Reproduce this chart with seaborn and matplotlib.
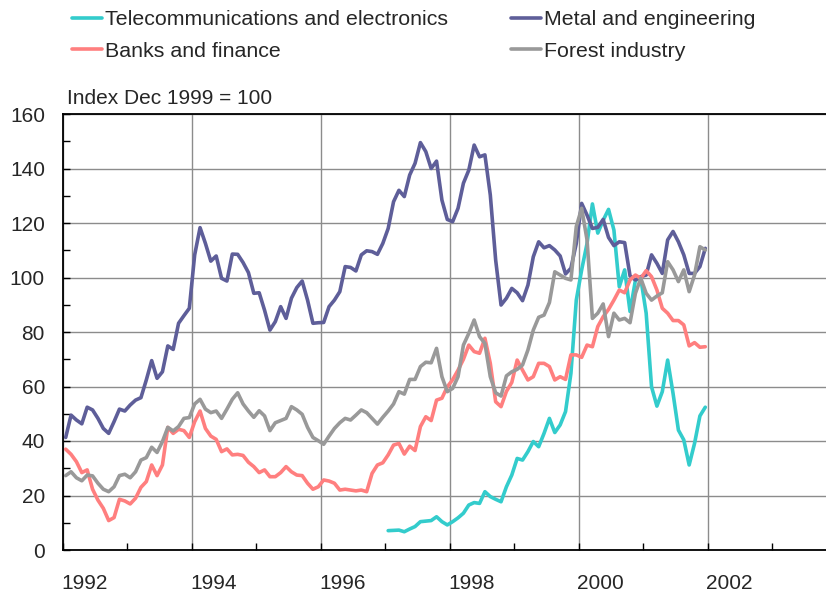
import pandas as pd
import matplotlib.pyplot as plt
import matplotlib.transforms as mtransforms
import seaborn as sns

# monthly index values, Jan 1992 - Dec 2001 (telecom starts Jan 1997)
metal = [41.3, 49.5, 47.7, 46.3, 52.4, 51.4, 48.3, 44.6, 42.8, 47.1, 51.7, 51.0,
         53.2, 55.0, 55.9, 62.4, 69.5, 63.0, 65.4, 74.9, 73.6, 83.2, 86.0, 88.7,
         108.3, 118.3, 112.5, 106.0, 107.9, 99.7, 98.7, 108.6, 108.5, 105.5, 101.8, 94.2,
         94.4, 88.0, 80.7, 83.8, 89.3, 85.0, 92.4, 96.3, 98.7, 91.7, 83.2, 83.4,
         83.5, 89.3, 91.7, 94.8, 104.0, 103.7, 102.4, 108.3, 109.8, 109.5, 108.5, 112.5,
         118.0, 127.8, 132.0, 129.7, 137.6, 141.9, 149.5, 146.2, 140.0, 142.7, 128.4, 121.3,
         120.5, 125.4, 134.6, 139.4, 148.6, 144.3, 145.0, 130.3, 106.4, 89.9, 92.4, 96.0,
         94.4, 91.5, 97.2, 107.6, 113.1, 110.9, 111.7, 110.1, 107.9, 101.3, 103.4, 112.5,
         127.2, 122.9, 118.0, 118.4, 121.3, 114.7, 111.7, 113.1, 112.8, 100.6, 99.1, 100.3,
         100.9, 108.3, 105.2, 101.5, 113.8, 116.9, 113.1, 108.3, 101.5, 101.5, 104.0, 110.7]

banks = [37.0, 35.1, 32.4, 28.4, 29.4, 22.3, 18.3, 15.3, 10.8, 11.9, 18.6, 18.0,
         16.9, 19.0, 23.0, 25.1, 31.2, 27.3, 31.2, 45.0, 42.8, 44.3, 43.8, 41.3,
         47.1, 51.0, 44.6, 41.8, 40.6, 36.1, 37.1, 34.9, 35.1, 34.7, 32.2, 30.6,
         28.4, 29.4, 26.9, 26.9, 28.4, 30.6, 28.7, 27.5, 27.3, 24.5, 22.3, 23.2,
         25.7, 25.3, 24.5, 22.0, 22.3, 22.0, 21.7, 22.0, 21.4, 28.1, 31.2, 32.0,
         34.9, 38.5, 39.1, 35.2, 38.1, 36.5, 45.3, 48.9, 47.5, 55.0, 55.7, 59.9,
         62.5, 66.0, 70.0, 75.2, 72.8, 72.2, 77.7, 68.5, 54.4, 52.6, 58.2, 61.5,
         69.7, 66.0, 62.4, 63.6, 68.5, 68.5, 67.3, 62.4, 63.6, 62.6, 71.6, 71.6,
         70.7, 75.2, 74.6, 82.0, 85.6, 88.3, 91.7, 95.4, 94.4, 99.1, 100.9, 99.7,
         102.5, 100.3, 95.4, 88.7, 86.9, 84.2, 84.2, 82.6, 74.9, 76.1, 74.4, 74.6]

forest = [27.3, 28.7, 26.5, 25.4, 27.5, 27.2, 24.5, 22.3, 21.4, 23.2, 27.3, 27.8,
          26.5, 28.7, 33.0, 33.9, 37.7, 35.8, 39.8, 45.0, 43.7, 45.3, 48.3, 48.6,
          53.6, 55.3, 51.7, 50.4, 51.0, 48.3, 51.7, 55.3, 57.7, 53.6, 51.0, 48.7,
          51.1, 49.2, 43.8, 46.7, 47.5, 48.3, 52.6, 51.4, 49.8, 45.0, 41.3, 40.1,
          38.8, 41.8, 44.6, 46.7, 48.3, 47.7, 49.5, 51.4, 50.4, 48.3, 46.2, 48.7,
          51.0, 53.6, 58.1, 57.2, 62.6, 62.6, 67.3, 68.9, 68.7, 74.0, 63.6, 58.1,
          59.3, 63.6, 75.2, 79.5, 84.4, 78.3, 75.8, 63.6, 57.7, 56.5, 63.9, 65.4,
          66.3, 67.9, 73.4, 80.7, 85.4, 86.2, 90.8, 102.1, 100.9, 99.7, 99.1, 118.7,
          125.4, 113.8, 85.0, 86.9, 90.3, 78.3, 86.9, 84.4, 85.0, 83.4, 94.2, 99.7,
          94.2, 91.7, 93.2, 94.4, 105.8, 102.8, 98.5, 102.8, 94.8, 100.9, 111.3, 110.1]

telecom = [7.1, 7.2, 7.3, 6.7, 7.7, 8.6, 10.4, 10.6, 10.8, 12.2, 10.4, 9.2,
           10.4, 11.8, 13.5, 16.5, 17.4, 17.1, 21.4, 19.6, 18.6, 17.7, 23.2, 27.5,
           33.6, 33.0, 36.1, 39.8, 37.9, 42.8, 48.3, 43.1, 45.9, 50.8, 64.8, 91.7,
           102.8, 112.5, 127.0, 116.3, 121.0, 125.0, 117.4, 96.6, 102.8, 87.5, 99.0, 99.7,
           86.9, 59.9, 52.8, 58.1, 69.7, 57.5, 44.0, 40.4, 31.2, 39.1, 49.2, 52.4]

names = ['Telecommunications and electronics', 'Metal and engineering',
         'Banks and finance', 'Forest industry']
colors = ['#33CCCC', '#5E5E99', '#FF7F7F', '#999999']
year_ticks = [1992, 1994, 1996, 1998, 2000, 2002]


def monthly(values, start):
    dates = pd.date_range(start, periods=len(values), freq='MS')
    return pd.DataFrame({'t': dates.year + (dates.month - 0.5) / 12, 'value': values})


frames = []
for name, vals, start in zip(names, [telecom, metal, banks, forest],
                             ['1997-01', '1992-01', '1992-01', '1992-01']):
    d = monthly(vals, start)
    d['series'] = name
    frames.append(d)
df = pd.concat(frames, ignore_index=True)

sns.set_style('ticks')
plt.rcParams['font.family'] = ['Liberation Sans', 'DejaVu Sans']

fig = plt.figure(figsize=(8.26, 5.97), dpi=100)
ax = fig.add_axes([63 / 826, 47 / 597, 763 / 826, 436 / 597])

sns.lineplot(data=df, x='t', y='value', hue='series', hue_order=names,
             palette=dict(zip(names, colors)), linewidth=2.6, errorbar=None,
             legend=False, ax=ax)

ax.set_xlim(1992, 2003.83)
ax.set_ylim(0, 160)
ax.set_xticks(year_ticks)
ax.set_xticklabels([str(y) for y in year_ticks])
ax.set_xticks([1993, 1995, 1997, 1999, 2001, 2003], minor=True)
ax.set_yticks(range(0, 161, 20))
ax.set_yticks(range(10, 160, 20), minor=True)
ax.set_xlabel('')
ax.set_ylabel('')

ax.tick_params(axis='both', which='both', direction='in', length=5, width=1,
               color='black', labelsize=15)
ax.tick_params(axis='x', pad=17)
ax.tick_params(axis='y', pad=13)
shift = mtransforms.ScaledTranslation(0.215, 0, fig.dpi_scale_trans)
for lab in ax.get_xticklabels():
    lab.set_transform(lab.get_transform() + shift)

ax.grid(True, which='major', color='#8c8c8c', linewidth=1.0)
ax.set_axisbelow(True)
for side in ['left', 'bottom', 'top']:
    ax.spines[side].set_color('black')
    ax.spines[side].set_linewidth(1.3)
ax.spines['right'].set_visible(False)

# legend: two columns, filled column by column
lines = dict(zip(names, ax.get_lines()[:4]))
leg_order = [names[0], names[2], names[1], names[3]]
fig.legend([lines[n] for n in leg_order], leg_order, loc='upper left',
           bbox_to_anchor=(72 / 826, 1 - 10 / 597), ncol=2, frameon=False,
           fontsize=15.4, handlelength=1.4, handletextpad=0.15,
           columnspacing=2.95, labelspacing=0.6, borderpad=0, borderaxespad=0)

fig.text(67 / 826, 1 - 98 / 597, 'Index Dec 1999 = 100', fontsize=15,
         ha='left', va='center')

fig.savefig('out.png', dpi=100)
